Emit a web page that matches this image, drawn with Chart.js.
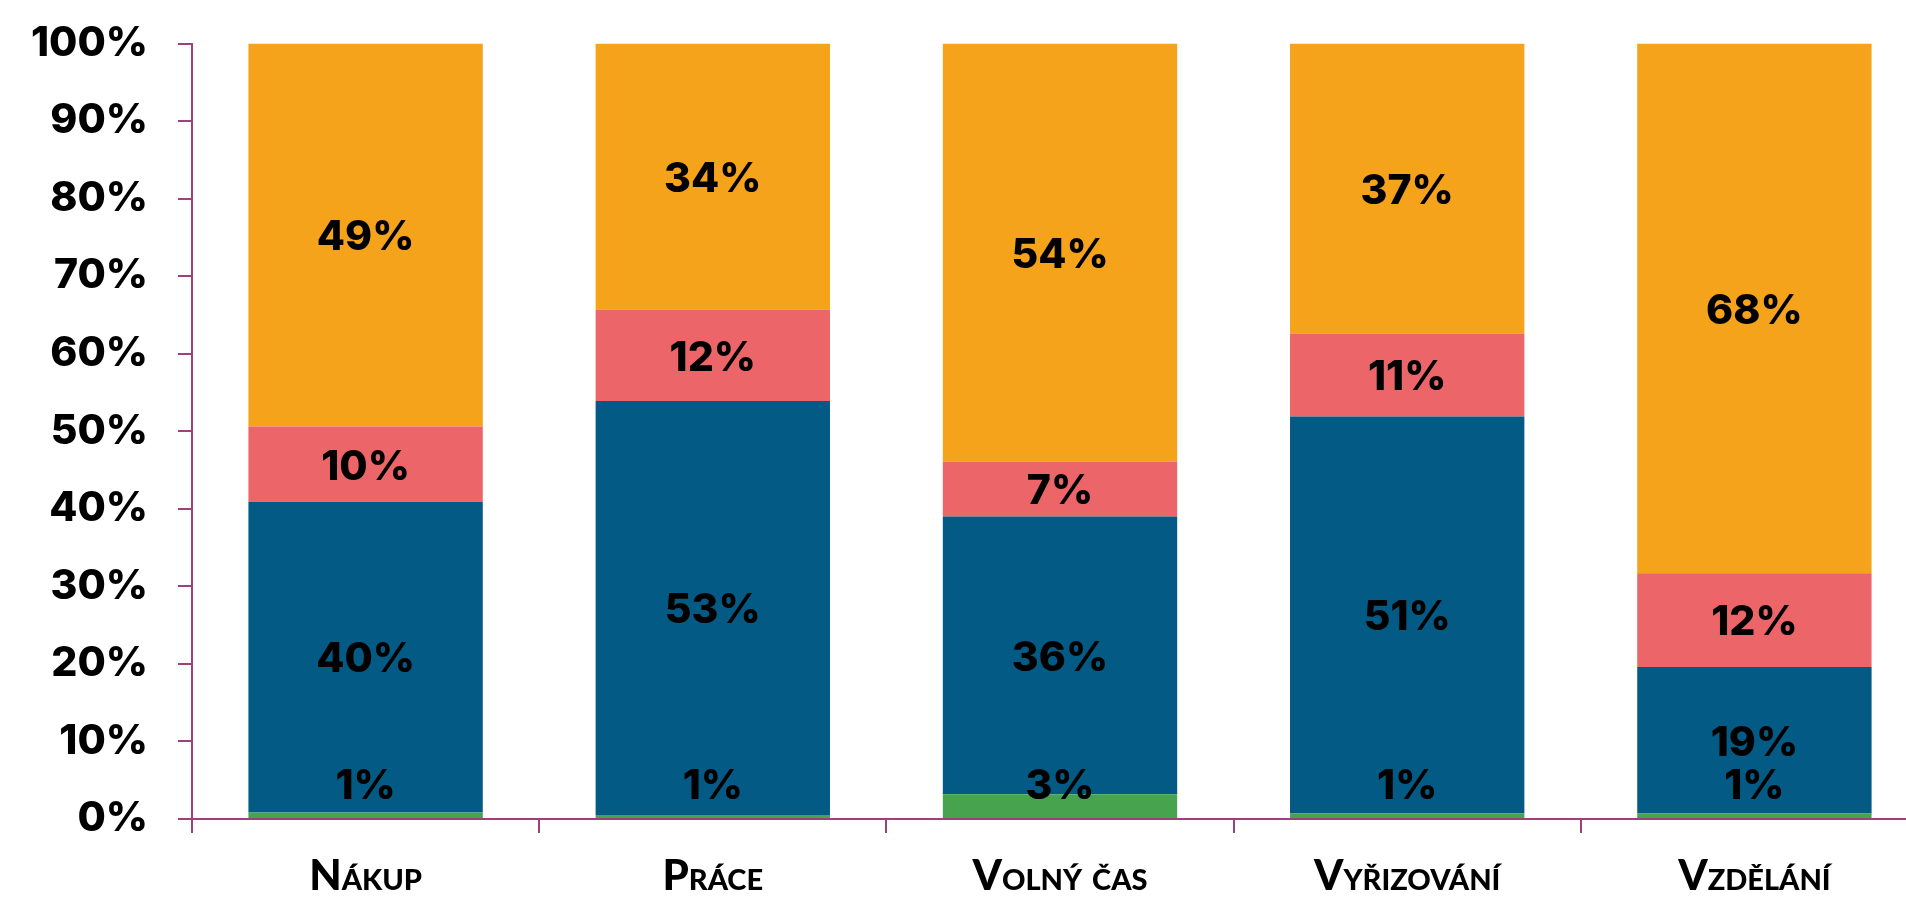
<!DOCTYPE html>
<html>
<head>
<meta charset="utf-8">
<script src="https://cdn.jsdelivr.net/npm/chart.js@4.4.1/dist/chart.umd.min.js"></script>
<style>
    html, body { margin: 0; padding: 0; background: #fff; overflow: hidden; }
    #wrap { width: 1930px; height: 900px; }
</style>
</head>
<body>
<div id="wrap"><canvas id="chart" width="1930" height="900"></canvas></div>
<script>
// --- Data ---
const categories = ['Nákup', 'Práce', 'Volný čas', 'Vyřizování', 'Vzdělání'];

// shares in %, bottom to top
const greenValues  = [0.85, 0.5, 3.2, 0.7, 0.7];
const blueValues   = [40.05, 53.4, 35.8, 51.2, 18.9];
const salmonValues = [9.7, 11.8, 7.1, 10.7, 12.1];
const orangeValues = [49.4, 34.3, 53.9, 37.4, 68.3];

const yTicks = [0, 10, 20, 30, 40, 50, 60, 70, 80, 90, 100];

const AXIS = '#9F3F7C';
const NUM_FONT = 'Inter';
const CAT_FONT = 'Lato';

// Draws the % labels in the middle of every segment
const segmentLabels = {
    id: 'segmentLabels',
    afterDatasetsDraw(chart) {
        const ctx = chart.ctx;
        ctx.save();
        ctx.font = '800 41px ' + NUM_FONT;
        ctx.fillStyle = '#000';
        ctx.textAlign = 'center';
        ctx.textBaseline = 'middle';
        chart.data.datasets.forEach((ds, i) => {
            const meta = chart.getDatasetMeta(i);
            meta.data.forEach((bar, j) => {
                let y = (bar.y + bar.base) / 2 + 3;
                // tiny bottom segments: keep label inside the plot
                if (i === 0) y = Math.min(y, bar.base - 31);
                ctx.fillText(Math.round(ds.data[j]) + '%', bar.x, y);
            });
        });
        ctx.restore();
    }
};

new Chart(document.getElementById('chart').getContext('2d'), {
    type: 'bar',
    data: {
        labels: categories,
        datasets: [
            { label: 'green', data: greenValues, backgroundColor: '#47A34E' },
            { label: 'blue', data: blueValues, backgroundColor: '#035A84' },
            { label: 'salmon', data: salmonValues, backgroundColor: '#EC6568' },
            { label: 'orange', data: orangeValues, backgroundColor: '#F5A31B' }
        ]
    },
    options: {
        responsive: false,
        animation: false,
        layout: { padding: { top: 43.5, right: 2, left: 0, bottom: 0 } },
        datasets: { bar: { categoryPercentage: 1, barPercentage: 0.675 } },
        plugins: { legend: { display: false }, tooltip: { enabled: false } },
        scales: {
            x: {
                stacked: true,
                grid: { offset: true, drawOnChartArea: false, drawTicks: true, tickLength: 14, color: AXIS, lineWidth: 2 },
                border: { color: AXIS, width: 2 },
                ticks: { color: '#000', padding: 18, font: { family: CAT_FONT, weight: 'small-caps 900', size: 42 } },
                afterFit(scale) {
                    scale.height = 81;
                    scale.paddingLeft = 0;
                    scale.paddingRight = 0;
                }
            },
            y: {
                stacked: true,
                min: 0,
                max: 100,
                afterBuildTicks(scale) {
                    scale.ticks = yTicks.map(v => ({ value: v }));
                },
                grid: { drawOnChartArea: false, drawTicks: true, tickLength: 14, color: AXIS, lineWidth: 2 },
                border: { color: AXIS, width: 2 },
                ticks: {
                    color: '#000',
                    padding: 30,
                    font: { family: NUM_FONT, weight: '800', size: 41 },
                    callback: v => v + '%'
                },
                afterFit(scale) {
                    scale.width = 192;
                    scale.paddingTop = 0;
                    scale.paddingBottom = 0;
                }
            }
        }
    },
    plugins: [segmentLabels]
});
</script>
</body>
</html>
